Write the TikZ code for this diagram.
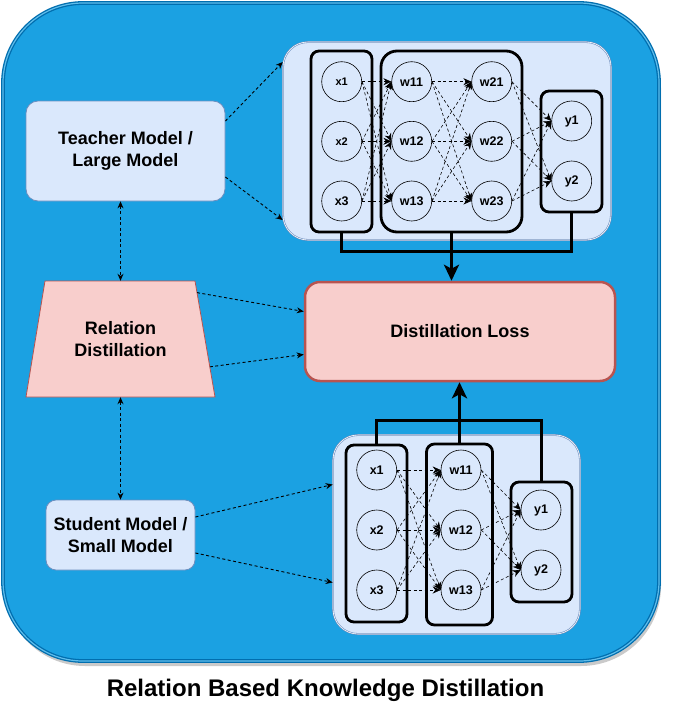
\documentclass[tikz,border=0pt]{standalone}
\usepackage{fontspec}
\setmainfont{Liberation Sans}
\usetikzlibrary{arrows.meta,shapes.geometric,calc,shadows}
\definecolor{outerfill}{HTML}{1BA1E2}
\definecolor{outerline}{HTML}{006EAF}
\definecolor{lightfill}{HTML}{DAE8FC}
\definecolor{lightline}{HTML}{6C8EBF}
\definecolor{pinkfill}{HTML}{F8CECC}
\definecolor{pinkline}{HTML}{B85450}
\begin{document}
\begin{tikzpicture}[x=1pt,y=-1pt,
  every node/.style={font=\bfseries},
  outerbox/.style={draw=outerline, double=outerfill!70!white, double distance=1.2pt, line width=1.3pt, fill=outerfill, rounded corners=80pt, inner sep=0pt,
     drop shadow={shadow xshift=2pt, shadow yshift=-5pt, opacity=0.35, fill=black!60}},
  lightbox/.style={draw=lightline, fill=lightfill, line width=0.8pt, inner sep=0pt, align=center},
  contbox/.style={draw=lightline, double=white, double distance=0.6pt, line width=0.6pt, fill=lightfill, rounded corners=25pt, inner sep=0pt},
  pinkbox/.style={draw=pinkline, fill=pinkfill, inner sep=0pt, align=center},
  layerbox/.style={draw=black, line width=2.8pt, inner sep=0pt},
  neuron/.style={circle, draw=black, line width=0.6pt, minimum size=40pt, inner sep=0pt, font=\bfseries\fontsize{12.5}{14}\selectfont},
  smallneuron/.style={neuron, font=\bfseries\fontsize{11}{12}\selectfont},
  netarrow/.style={dash pattern=on 3pt off 2.5pt, line width=0.6pt, -{Stealth[length=8pt,width=7pt]}},
  modelarrow/.style={dash pattern=on 3pt off 2.5pt, line width=0.9pt, -{Stealth[length=7pt,width=6pt]}},
  biarrow/.style={dash pattern=on 3pt off 2.5pt, line width=0.9pt, {Stealth[length=7pt,width=6pt]}-{Stealth[length=7pt,width=6pt]}},
  thickline/.style={line width=3pt},
  bigarrow/.style={line width=3pt, -{Stealth[length=16pt,width=15pt,inset=4pt]}},
  labelfont/.style={font=\bfseries\fontsize{18}{22}\selectfont},
  titlefont/.style={font=\bfseries\fontsize{24}{28}\selectfont}
]
\useasboundingbox (0,0) rectangle (674,723);

% outer container
\node[outerbox, minimum width=656pt, minimum height=658pt] (outer) at (331,332) {};

% left-side boxes
\node[lightbox, rounded corners=12pt, minimum width=199pt, minimum height=100pt, labelfont] (teacher) at (125.5,151) {Teacher Model /\\Large Model};
\node[lightbox, rounded corners=10pt, minimum width=149pt, minimum height=70pt, labelfont] (student) at (120.5,535) {Student Model /\\Small Model};

% relation distillation trapezium
\coordinate (reltl) at (45,281);
\coordinate (reltr) at (195,281);
\coordinate (relbr) at (215,397);
\coordinate (relbl) at (26,397);
\draw[draw=pinkline, fill=pinkfill, line width=0.8pt] (reltl) -- (reltr) -- (relbr) -- (relbl) -- cycle;
\node[labelfont, align=center, inner sep=0pt, minimum width=150pt, minimum height=116pt] (rel) at (120.5,339) {Relation\\Distillation};

% distillation loss
\node[pinkbox, rounded corners=15pt, line width=2.5pt, minimum width=310pt, minimum height=99pt, labelfont] (loss) at (460,331.5) {Distillation Loss};

% top network container
\node[contbox, minimum width=328pt, minimum height=198pt] (tcont) at (447,141) {};
\node[layerbox, rounded corners=8pt, minimum width=61pt, minimum height=181pt] (txbox) at (341.5,141.5) {};
\node[layerbox, rounded corners=16pt, minimum width=141pt, minimum height=181pt] (twbox) at (451.5,141.5) {};
\node[layerbox, rounded corners=8pt, minimum width=61pt, minimum height=121pt] (tybox) at (571.5,151.5) {};

\node[smallneuron] (tx1) at (341.7,81.7) {x1};
\node[smallneuron] (tx2) at (341.7,141.3) {x2};
\node[neuron] (tx3) at (341.7,201) {x3};
\node[neuron] (tw11) at (411.7,81.7) {w11};
\node[neuron] (tw12) at (411.7,141.3) {w12};
\node[neuron] (tw13) at (411.7,201) {w13};
\node[neuron] (tw21) at (491.7,81.7) {w21};
\node[neuron] (tw22) at (491.7,141.3) {w22};
\node[neuron] (tw23) at (491.7,201) {w23};
\node[neuron] (ty1) at (571.7,121) {y1};
\node[neuron] (ty2) at (571.7,181) {y2};

\foreach \i in {1,2,3}{
  \foreach \j in {1,2,3}{
    \draw[netarrow] (tx\i.east) -- (tw1\j.west);
    \draw[netarrow] (tw1\i.east) -- (tw2\j.west);
  }
  \foreach \j in {1,2}{
    \draw[netarrow] (tw2\i.east) -- (ty\j.west);
  }
}

% bottom network container
\node[contbox, minimum width=247pt, minimum height=199pt] (bcont) at (456.5,534.5) {};
\node[layerbox, rounded corners=8pt, minimum width=61pt, minimum height=177pt] (bxbox) at (376.5,533.5) {};
\node[layerbox, rounded corners=8pt, minimum width=66pt, minimum height=181pt] (bwbox) at (459.5,534.5) {};
\node[layerbox, rounded corners=8pt, minimum width=61pt, minimum height=120pt] (bybox) at (541.5,542) {};

\node[neuron] (bx1) at (376.7,470) {x1};
\node[neuron] (bx2) at (376.7,530) {x2};
\node[neuron] (bx3) at (376.7,590) {x3};
\node[neuron] (bw1) at (461,470) {w11};
\node[neuron] (bw2) at (461,530) {w12};
\node[neuron] (bw3) at (461,590) {w13};
\node[neuron] (by1) at (541,510) {y1};
\node[neuron] (by2) at (541,570) {y2};

\foreach \i in {1,2,3}{
  \foreach \j in {1,2,3}{
    \draw[netarrow] (bx\i.east) -- (bw\j.west);
  }
  \foreach \j in {1,2}{
    \draw[netarrow] (bw\i.east) -- (by\j.west);
  }
}

% thick connectors to the loss
\draw[thickline] (txbox.south) -- ++(0,18) -| (tybox.south);
\draw[bigarrow] (twbox.south) -- (twbox.south |- loss.north);
\draw[thickline] (bxbox.north) -- ++(0,-23.5) -| (bybox.north);
\draw[bigarrow] (bwbox.north) -- (bwbox.north |- loss.south);

% model arrows
\draw[modelarrow] ([yshift=30pt]teacher.east) -- ([yshift=79pt]tcont.west);
\draw[modelarrow] ([yshift=-26pt]teacher.east) -- ([yshift=-79pt]tcont.west);
\draw[modelarrow] (student.east |- 0,517) -- ([yshift=50pt]bcont.west);
\draw[modelarrow] (student.east |- 0,553) -- ([yshift=-48pt]bcont.west);
\draw[modelarrow] ($(reltr)!0.1!(relbr)$) -- ([yshift=20pt]loss.west);
\draw[modelarrow] ($(reltr)!0.74!(relbr)$) -- ([yshift=-23pt]loss.west);
\draw[biarrow] (rel.north |- teacher.south) -- (rel.north);
\draw[biarrow] (rel.south) -- (rel.south |- student.north);

% title
\node[titlefont] (title) at (325.5,690) {Relation Based Knowledge Distillation};
\end{tikzpicture}
\end{document}
